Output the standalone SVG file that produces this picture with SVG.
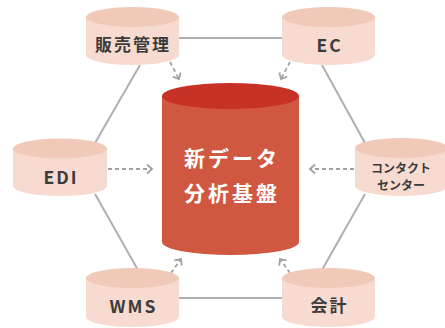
<svg xmlns="http://www.w3.org/2000/svg" width="445" height="328" viewBox="0 0 445 328">
<style>
.line{stroke:#AEAFB3;stroke-width:2;fill:none}
.dash{stroke:#9FA1A5;stroke-width:1.8;fill:none;stroke-dasharray:4 3}
.body{fill:#F7DBD0}
.top{fill:#F1C9B8}
.lbl{font-family:"Noto Sans CJK JP","Noto Sans",sans-serif;font-weight:bold;fill:#3B3B3B;text-anchor:middle;dominant-baseline:central}
.big{font-family:"Noto Sans CJK JP","Noto Sans",sans-serif;font-weight:bold;fill:#FFFFFF;text-anchor:middle;dominant-baseline:central;font-size:21px;letter-spacing:3px}
</style>
<defs>
<marker id="arr" markerUnits="userSpaceOnUse" markerWidth="12" markerHeight="12" refX="6" refY="5" orient="auto">
<path d="M1,0.5 L6,5 L1,9.5" stroke="#9FA1A5" stroke-width="1.8" fill="none"/>
</marker>
</defs>
<g id="connectors">
<line class="line" x1="179" y1="38" x2="282" y2="38"/>
<line class="line" x1="179" y1="298" x2="282" y2="298"/>
<line class="line" x1="140" y1="65" x2="95" y2="143"/>
<line class="line" x1="322" y1="65" x2="365" y2="143"/>
<line class="line" x1="95" y1="194" x2="138" y2="270"/>
<line class="line" x1="365" y1="194" x2="322" y2="270"/>
<line class="dash" x1="170" y1="62" x2="179" y2="79" marker-end="url(#arr)"/>
<line class="dash" x1="290" y1="62" x2="281" y2="79" marker-end="url(#arr)"/>
<line class="dash" x1="108" y1="169" x2="152" y2="169" marker-end="url(#arr)"/>
<line class="dash" x1="354" y1="169" x2="310" y2="169" marker-end="url(#arr)"/>
<line class="dash" x1="171" y1="273" x2="181" y2="259" marker-end="url(#arr)"/>
<line class="dash" x1="290" y1="273" x2="280" y2="259" marker-end="url(#arr)"/>
</g>
<g id="center">
<path d="M162,96 L162,242 A68.5,13 0 0 0 299,242 L299,96 Z" fill="#D05740"/>
<ellipse cx="230.5" cy="96" rx="68.5" ry="13" fill="#C83126"/>
<text class="big" x="232" y="157">新データ</text>
<text class="big" x="232" y="192">分析基盤</text>
</g>
<g id="hanbai">
<path class="body" d="M86,17 L86,55 A46.5,10 0 0 0 179,55 L179,17 Z"/>
<ellipse class="top" cx="132.5" cy="17" rx="46.5" ry="10"/>
<text class="lbl" x="133" y="43" font-size="17" letter-spacing="2">販売管理</text>
</g>
<g id="ec">
<path class="body" d="M282,17 L282,55 A46.5,10 0 0 0 375,55 L375,17 Z"/>
<ellipse class="top" cx="328.5" cy="17" rx="46.5" ry="10"/>
<text class="lbl" x="329.5" y="44" font-size="17.5" letter-spacing="2">EC</text>
</g>
<g id="edi">
<path class="body" d="M13,148.5 L13,186 A46.5,10 0 0 0 107,186 L107,148.5 Z"/>
<ellipse class="top" cx="60" cy="148.5" rx="47" ry="10"/>
<text class="lbl" x="61" y="176" font-size="17.5" letter-spacing="2">EDI</text>
</g>
<g id="contact">
<path class="body" d="M355,148 L355,186 A46.5,10 0 0 0 448,186 L448,148 Z"/>
<ellipse class="top" cx="401.5" cy="148" rx="46.5" ry="10"/>
<text class="lbl" x="401" y="167" font-size="12">コンタクト</text>
<text class="lbl" x="401" y="184" font-size="12">センター</text>
</g>
<g id="wms">
<path class="body" d="M86,278 L86,317 A46.5,10 0 0 0 179,317 L179,278 Z"/>
<ellipse class="top" cx="132.5" cy="278" rx="46.5" ry="10"/>
<text class="lbl" x="133.5" y="305" font-size="17.5" letter-spacing="2">WMS</text>
</g>
<g id="kaikei">
<path class="body" d="M282,278 L282,317 A46.5,10 0 0 0 375,317 L375,278 Z"/>
<ellipse class="top" cx="328.5" cy="278" rx="46.5" ry="10"/>
<text class="lbl" x="329.5" y="304" font-size="17" letter-spacing="2">会計</text>
</g>
</svg>
